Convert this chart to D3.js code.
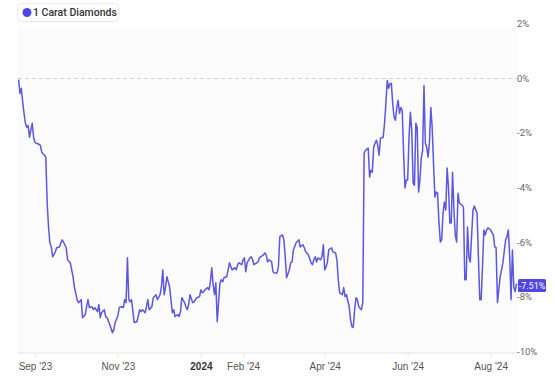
<!DOCTYPE html>
<html>
<head>
<meta charset="utf-8">
<script src="https://cdn.jsdelivr.net/npm/d3@7/dist/d3.min.js"></script>
<style>
    body { margin: 0; background: #fff; font-family: Roboto, "Open Sans", sans-serif; }
    .x-axis text { font-size: 10px; fill: #555; }
    .x-axis line, .x-axis path { stroke: #e4e4e7; }
    .y-label { font-size: 9.5px; fill: #666; }
</style>
</head>
<body>
<div id="chart"></div>
<script>
var seriesName = "1 Carat Diamonds";
var lastLabel = "-7.51%";

var dates = [
    "2023-08-20","2023-08-21","2023-08-22","2023-08-23","2023-08-24","2023-08-25","2023-08-26","2023-08-27","2023-08-28","2023-08-30","2023-08-31",
    "2023-09-01","2023-09-02","2023-09-04","2023-09-05","2023-09-06","2023-09-08","2023-09-09","2023-09-10","2023-09-11","2023-09-12","2023-09-13","2023-09-14","2023-09-16","2023-09-17","2023-09-19","2023-09-21","2023-09-22","2023-09-24","2023-09-25","2023-09-27","2023-09-29","2023-09-30",
    "2023-10-02","2023-10-03","2023-10-05","2023-10-06","2023-10-08","2023-10-09","2023-10-10","2023-10-11","2023-10-13","2023-10-14","2023-10-15","2023-10-17","2023-10-18","2023-10-19","2023-10-20","2023-10-22","2023-10-23","2023-10-24","2023-10-26","2023-10-28","2023-10-29","2023-10-30",
    "2023-11-01","2023-11-02","2023-11-04","2023-11-05","2023-11-06","2023-11-07","2023-11-08","2023-11-09","2023-11-10","2023-11-11","2023-11-13","2023-11-15","2023-11-17","2023-11-18","2023-11-19","2023-11-21","2023-11-22","2023-11-23","2023-11-24","2023-11-26","2023-11-27","2023-11-29","2023-11-30",
    "2023-12-02","2023-12-03","2023-12-04","2023-12-05","2023-12-06","2023-12-07","2023-12-09","2023-12-10","2023-12-11","2023-12-12","2023-12-13","2023-12-15","2023-12-16","2023-12-17","2023-12-18","2023-12-20","2023-12-21","2023-12-22","2023-12-23","2023-12-24","2023-12-26","2023-12-27","2023-12-28","2023-12-29","2023-12-31",
    "2024-01-01","2024-01-02","2024-01-03","2024-01-04","2024-01-06","2024-01-07","2024-01-08","2024-01-09","2024-01-10","2024-01-11","2024-01-12","2024-01-13","2024-01-15","2024-01-16","2024-01-17","2024-01-18","2024-01-20","2024-01-21","2024-01-22","2024-01-23","2024-01-24","2024-01-26","2024-01-27","2024-01-28","2024-01-29","2024-01-31",
    "2024-02-01","2024-02-02","2024-02-03","2024-02-04","2024-02-06","2024-02-07","2024-02-08","2024-02-09","2024-02-11","2024-02-12","2024-02-13","2024-02-14","2024-02-16","2024-02-17","2024-02-18","2024-02-19","2024-02-20","2024-02-22","2024-02-23","2024-02-24","2024-02-26","2024-02-27","2024-02-28",
    "2024-03-01","2024-03-02","2024-03-03","2024-03-04","2024-03-06","2024-03-07","2024-03-08","2024-03-09","2024-03-11","2024-03-13","2024-03-14","2024-03-16","2024-03-17","2024-03-18","2024-03-20","2024-03-22","2024-03-23","2024-03-24","2024-03-25","2024-03-26","2024-03-27","2024-03-29","2024-03-30","2024-03-31",
    "2024-04-01","2024-04-02","2024-04-03","2024-04-04","2024-04-06","2024-04-07","2024-04-09","2024-04-10","2024-04-11","2024-04-12","2024-04-14","2024-04-15","2024-04-16","2024-04-17","2024-04-19","2024-04-20","2024-04-21","2024-04-22","2024-04-23","2024-04-24","2024-04-25","2024-04-26","2024-04-28","2024-04-29","2024-04-30",
    "2024-05-01","2024-05-03","2024-05-04","2024-05-05","2024-05-06","2024-05-07","2024-05-08","2024-05-09","2024-05-10","2024-05-11","2024-05-12","2024-05-14","2024-05-15","2024-05-16","2024-05-17","2024-05-18","2024-05-19","2024-05-20","2024-05-21","2024-05-22","2024-05-23","2024-05-24","2024-05-25","2024-05-26","2024-05-27","2024-05-28","2024-05-29","2024-05-30","2024-05-31",
    "2024-06-01","2024-06-02","2024-06-03","2024-06-04","2024-06-05","2024-06-06","2024-06-07","2024-06-08","2024-06-09","2024-06-10","2024-06-11","2024-06-12","2024-06-13","2024-06-14","2024-06-15","2024-06-16","2024-06-17","2024-06-18","2024-06-19","2024-06-20","2024-06-21","2024-06-22","2024-06-23","2024-06-24","2024-06-25","2024-06-26","2024-06-27","2024-06-28","2024-06-29","2024-06-30",
    "2024-07-01","2024-07-02","2024-07-03","2024-07-04","2024-07-05","2024-07-06","2024-07-07","2024-07-08","2024-07-09","2024-07-11","2024-07-12","2024-07-13","2024-07-14","2024-07-15","2024-07-16","2024-07-17","2024-07-19","2024-07-20","2024-07-22","2024-07-23","2024-07-24","2024-07-25","2024-07-26","2024-07-27","2024-07-28","2024-07-29","2024-07-30",
    "2024-08-01","2024-08-03","2024-08-04","2024-08-05","2024-08-06","2024-08-08","2024-08-09","2024-08-10","2024-08-12","2024-08-13","2024-08-14","2024-08-15","2024-08-16","2024-08-17","2024-08-18","2024-08-19","2024-08-20"
];

var pctChange = [
    -0.04,-0.55,-0.36,-0.86,-1.28,-1.64,-1.79,-1.72,-2.15,-1.64,-2.15,
    -2.34,-2.37,-2.41,-2.45,-2.70,-2.81,-2.88,-4.56,-5.44,-6.02,-6.17,-6.53,-6.35,-6.20,-6.17,-5.91,-5.99,-6.20,-6.64,-6.75,-7.26,-7.63,
    -8.10,-8.21,-8.10,-8.76,-8.65,-8.36,-8.10,-8.39,-8.36,-8.47,-8.39,-8.54,-8.28,-8.76,-8.58,-8.47,-8.72,-8.76,-9.01,-9.31,-9.20,-8.94,
    -8.69,-8.39,-8.36,-8.39,-8.10,-8.21,-6.57,-8.10,-8.18,-8.10,-8.94,-8.91,-8.47,-8.54,-8.47,-8.58,-8.36,-8.10,-8.47,-8.36,-8.03,-7.92,-8.10,
    -7.92,-7.63,-7.01,-7.92,-7.66,-7.26,-7.63,-8.10,-8.58,-8.47,-8.72,-8.65,-8.72,-8.54,-8.03,-8.21,-8.36,-8.47,-8.28,-7.92,-8.21,-8.18,-8.10,-8.03,-7.99,
    -7.74,-7.85,-7.81,-7.74,-7.66,-7.74,-7.45,-6.93,-7.55,-7.92,-7.48,-8.91,-7.48,-7.37,-7.45,-7.30,-7.26,-7.01,-6.75,-6.90,-7.01,-6.93,-7.01,-6.82,-6.75,-6.82,
    -6.64,-6.57,-7.08,-6.75,-6.57,-6.53,-6.64,-6.82,-6.75,-6.72,-6.57,-6.53,-6.46,-6.39,-6.46,-6.72,-6.64,-6.72,-7.08,-7.12,-7.12,-6.90,-5.80,
    -5.73,-5.91,-6.53,-7.30,-7.01,-6.75,-6.72,-6.28,-6.02,-5.91,-6.17,-6.09,-6.20,-6.35,-6.46,-6.75,-6.82,-6.64,-6.53,-6.72,-6.57,-6.64,-6.53,-6.09,
    -7.01,-6.90,-6.72,-6.28,-6.20,-6.35,-6.39,-6.64,-7.37,-7.85,-7.92,-7.66,-7.99,-7.92,-8.36,-8.83,-9.09,-9.12,-8.47,-8.03,-8.10,-8.36,-8.47,-8.21,-2.74,
    -2.63,-2.55,-3.61,-3.36,-3.43,-2.52,-2.37,-2.26,-2.45,-2.81,-2.19,-2.15,-1.64,-0.91,-0.07,-0.36,-0.18,-0.18,-0.91,-1.42,-1.53,-1.06,-0.80,-1.28,-1.06,-1.17,-2.74,-4.01,-3.72,
    -3.72,-2.15,-1.24,-1.90,-3.83,-3.91,-1.64,-1.79,-4.16,-3.72,-2.92,-2.63,-0.26,-2.37,-2.52,-2.88,-2.34,-1.06,-1.79,-3.10,-4.34,-4.16,-4.20,-5.29,-5.99,-5.91,-4.93,-4.53,-4.82,-3.28,
    -3.98,-5.29,-5.29,-3.43,-4.82,-5.73,-5.99,-4.20,-4.56,-4.64,-4.71,-7.37,-7.37,-5.44,-6.53,-6.72,-4.82,-4.67,-4.93,-6.53,-8.10,-8.10,-6.90,-5.55,-5.73,-5.55,-5.47,
    -5.55,-5.73,-6.17,-6.20,-8.21,-7.26,-7.01,-6.75,-5.91,-5.80,-5.55,-6.53,-8.10,-6.28,-7.63,-7.81,-7.51
];

var yTicks = [2, 0, -2, -4, -6, -8, -10];
var xTickDates = ["2023-09-01", "2023-11-01", "2024-01-01", "2024-02-01", "2024-04-01", "2024-06-01", "2024-08-01"];
var xTickLabels = ["Sep '23", "Nov '23", "2024", "Feb '24", "Apr '24", "Jun '24", "Aug '24"];

var width = 554, height = 387;
var lineColor = "#5b57e0";
var parse = d3.timeParse("%Y-%m-%d");

var data = dates.map(function (d, i) {
    return { date: parse(d), value: pctChange[i] };
});

var x = d3.scaleTime()
    .domain([parse("2023-08-20"), parse("2024-08-20")])
    .range([18.6, 516.5]);

var y = d3.scaleLinear()
    .domain([-10, 2])
    .range([351.5, 23.9]);

var svg = d3.select("#chart").append("svg")
    .attr("width", width)
    .attr("height", height);

// plot background
svg.append("rect")
    .attr("x", 18)
    .attr("y", 27)
    .attr("width", 499)
    .attr("height", 326)
    .attr("fill", "#fbfbfc");

// zero reference line
svg.append("line")
    .attr("x1", 18)
    .attr("x2", 517)
    .attr("y1", y(0))
    .attr("y2", y(0))
    .attr("stroke", "#cfcfd4")
    .attr("stroke-dasharray", "4,3")
    .attr("stroke-width", 1);

// x axis
var xAxis = d3.axisBottom(x)
    .tickValues(xTickDates.map(parse))
    .tickSize(4)
    .tickPadding(6)
    .tickFormat(function (d, i) { return xTickLabels[i]; });

var gx = svg.append("g")
    .attr("class", "x-axis")
    .attr("transform", "translate(0,353)")
    .call(xAxis);

gx.select(".domain").attr("d", "M18,0H517");
gx.selectAll("text")
    .style("font-weight", function (d, i) { return xTickLabels[i] === "2024" ? "bold" : "normal"; })
    .style("fill", function (d, i) { return xTickLabels[i] === "2024" ? "#333" : "#555"; });

// y labels on the right
svg.selectAll(".y-label")
    .data(yTicks)
    .enter().append("text")
    .attr("class", "y-label")
    .attr("x", 517)
    .attr("y", function (d) { return y(d); })
    .attr("dy", "0.35em")
    .text(function (d) { return d + "%"; });

// series line
var line = d3.line()
    .x(function (d) { return x(d.date); })
    .y(function (d) { return y(d.value); });

svg.append("path")
    .datum(data)
    .attr("fill", "none")
    .attr("stroke", lineColor)
    .attr("stroke-width", 1.5)
    .attr("stroke-linejoin", "round")
    .attr("d", line);

// last value badge
var last = data[data.length - 1];
var badge = svg.append("g")
    .attr("transform", "translate(518," + (y(last.value) + 2) + ")");
badge.append("rect")
    .attr("x", 0)
    .attr("y", -6.5)
    .attr("width", 28)
    .attr("height", 13)
    .attr("rx", 1.5)
    .attr("fill", "#4f46e5");
badge.append("text")
    .attr("x", 14)
    .attr("dy", "0.35em")
    .attr("text-anchor", "middle")
    .style("font-size", "9px")
    .style("fill", "#fff")
    .text(lastLabel);

// legend
var legend = svg.append("g").attr("transform", "translate(17,3)");
legend.append("rect")
    .attr("x", 0.5)
    .attr("y", 0.5)
    .attr("width", 101)
    .attr("height", 18)
    .attr("rx", 4)
    .attr("fill", "#fff")
    .attr("stroke", "#e8e8ec");
legend.append("circle")
    .attr("cx", 10)
    .attr("cy", 9.5)
    .attr("r", 4.5)
    .attr("fill", "#4f46e5");
legend.append("text")
    .attr("x", 16)
    .attr("y", 9.5)
    .attr("dy", "0.35em")
    .style("font-size", "10.5px")
    .style("font-weight", "500")
    .style("fill", "#333")
    .text(seriesName);
</script>
</body>
</html>
